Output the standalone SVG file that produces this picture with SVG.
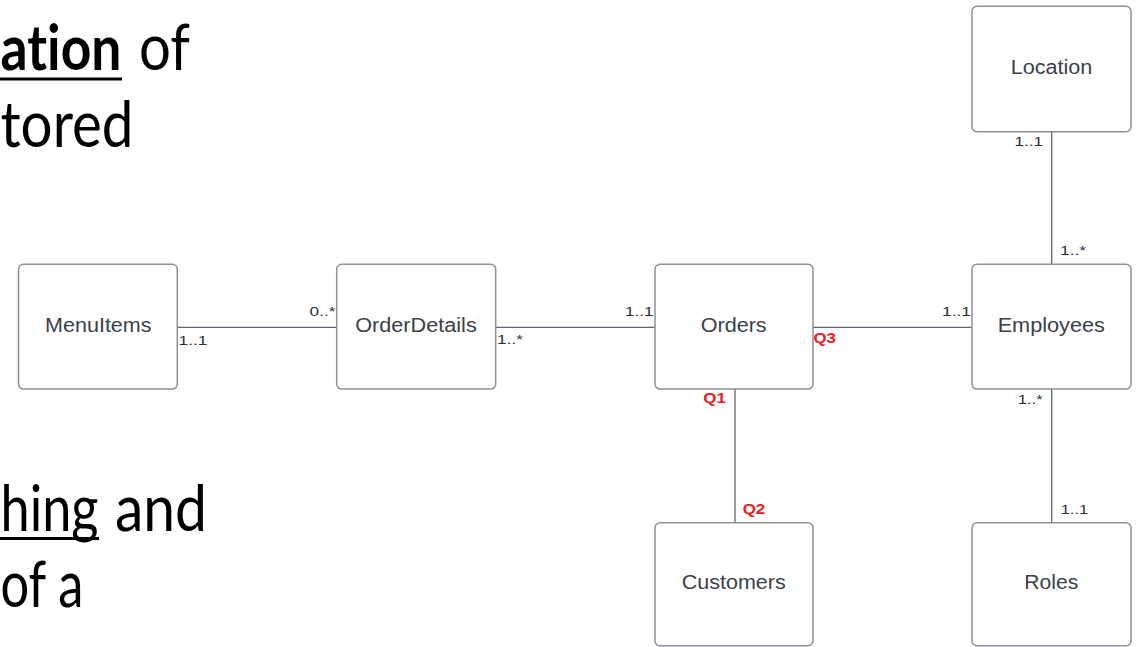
<svg xmlns="http://www.w3.org/2000/svg" width="1143" height="647" viewBox="0 0 1143 647">
  <style>
    .box { fill: #ffffff; stroke: #8c9199; stroke-width: 1.5; }
    .lbl { font-family: "Liberation Sans", Arial, sans-serif; font-size: 19.5px; fill: #3b4149; text-anchor: middle; }
    .mult { font-family: "Liberation Sans", Arial, sans-serif; font-size: 12.5px; fill: #2b2f35; }
    .q { font-family: "Liberation Sans", Arial, sans-serif; font-size: 15px; font-weight: bold; fill: #e8201e; }
    .edge { stroke: #5f6670; stroke-width: 1.3; fill: none; }
    .body { font-family: Lato, "Open Sans", sans-serif; font-size: 63px; fill: #000000; font-variant-ligatures: none; }
    .ul { fill: #000000; }
  </style>

  <!-- slide text fragments on the left -->
  <g id="slide-text">
    <text class="body" x="0.5" y="70" font-weight="bold" textLength="121" lengthAdjust="spacingAndGlyphs">ation</text>
    <rect class="ul" x="0" y="77.5" width="122" height="3"/>
    <text class="body" x="139" y="70" textLength="51" lengthAdjust="spacingAndGlyphs">of</text>
    <text class="body" x="0.5" y="147" textLength="133" lengthAdjust="spacingAndGlyphs">tored</text>
    <text class="body" x="0.5" y="530.5" textLength="98" lengthAdjust="spacingAndGlyphs">hing</text>
    <rect class="ul" x="0" y="537" width="99" height="3"/>
    <text class="body" x="115" y="530.5" textLength="92" lengthAdjust="spacingAndGlyphs">and</text>
    <text class="body" x="0.5" y="607" textLength="83" lengthAdjust="spacingAndGlyphs">of a</text>
  </g>

  <!-- relationships -->
  <g id="connectors">
    <line class="edge" x1="177.5" y1="327.3" x2="336.7" y2="327.3"/>
    <line class="edge" x1="495.7" y1="327.3" x2="655" y2="327.3"/>
    <line class="edge" x1="813" y1="327.3" x2="972" y2="327.3"/>
    <line class="edge" x1="1051.7" y1="131.7" x2="1051.7" y2="264"/>
    <line class="edge" x1="735" y1="389" x2="735" y2="522.7"/>
    <line class="edge" x1="1051.7" y1="389" x2="1051.7" y2="522.7"/>

    <text class="mult" x="178.5" y="345" textLength="29" lengthAdjust="spacingAndGlyphs">1..1</text>
    <text class="mult" x="309.5" y="315.7" textLength="26" lengthAdjust="spacingAndGlyphs">0..*</text>
    <text class="mult" x="497" y="344" textLength="26" lengthAdjust="spacingAndGlyphs">1..*</text>
    <text class="mult" x="625" y="315.7" textLength="28.5" lengthAdjust="spacingAndGlyphs">1..1</text>
    <text class="mult" x="942" y="315.7" textLength="29" lengthAdjust="spacingAndGlyphs">1..1</text>
    <text class="mult" x="1014.5" y="145.7" textLength="28.5" lengthAdjust="spacingAndGlyphs">1..1</text>
    <text class="mult" x="1060" y="255" textLength="26" lengthAdjust="spacingAndGlyphs">1..*</text>
    <text class="mult" x="1017.7" y="404.3" textLength="25" lengthAdjust="spacingAndGlyphs">1..*</text>
    <text class="mult" x="1060.7" y="514.3" textLength="27.5" lengthAdjust="spacingAndGlyphs">1..1</text>

    <text class="q" x="813.5" y="343.3" textLength="22.5" lengthAdjust="spacingAndGlyphs">Q3</text>
    <text class="q" x="703.3" y="403.3" textLength="22.5" lengthAdjust="spacingAndGlyphs">Q1</text>
    <text class="q" x="742.7" y="514.3" textLength="22.5" lengthAdjust="spacingAndGlyphs">Q2</text>
  </g>

  <g id="menuitems">
    <rect class="box" x="18.5" y="264.3" width="158.8" height="124.8" rx="5"/>
    <text class="lbl" x="98.3" y="331.5" textLength="106.5" lengthAdjust="spacingAndGlyphs">MenuItems</text>
  </g>
  <g id="orderdetails">
    <rect class="box" x="336.7" y="264.3" width="159" height="124.8" rx="5"/>
    <text class="lbl" x="416" y="331.5" textLength="121.5" lengthAdjust="spacingAndGlyphs">OrderDetails</text>
  </g>
  <g id="orders">
    <rect class="box" x="655" y="264.3" width="158" height="124.8" rx="5"/>
    <text class="lbl" x="733.7" y="331.5" textLength="66" lengthAdjust="spacingAndGlyphs">Orders</text>
  </g>
  <g id="employees">
    <rect class="box" x="972" y="264.3" width="159" height="124.8" rx="5"/>
    <text class="lbl" x="1051.3" y="331.5" textLength="107.3" lengthAdjust="spacingAndGlyphs">Employees</text>
  </g>
  <g id="location">
    <rect class="box" x="972" y="6.3" width="159" height="125.4" rx="5"/>
    <text class="lbl" x="1051.5" y="73.5" textLength="81.6" lengthAdjust="spacingAndGlyphs">Location</text>
  </g>
  <g id="customers">
    <rect class="box" x="655" y="522.7" width="158" height="123" rx="5"/>
    <text class="lbl" x="733.7" y="589" textLength="104" lengthAdjust="spacingAndGlyphs">Customers</text>
  </g>
  <g id="roles">
    <rect class="box" x="972" y="522.7" width="159" height="123" rx="5"/>
    <text class="lbl" x="1051.3" y="589" textLength="54" lengthAdjust="spacingAndGlyphs">Roles</text>
  </g>
</svg>
